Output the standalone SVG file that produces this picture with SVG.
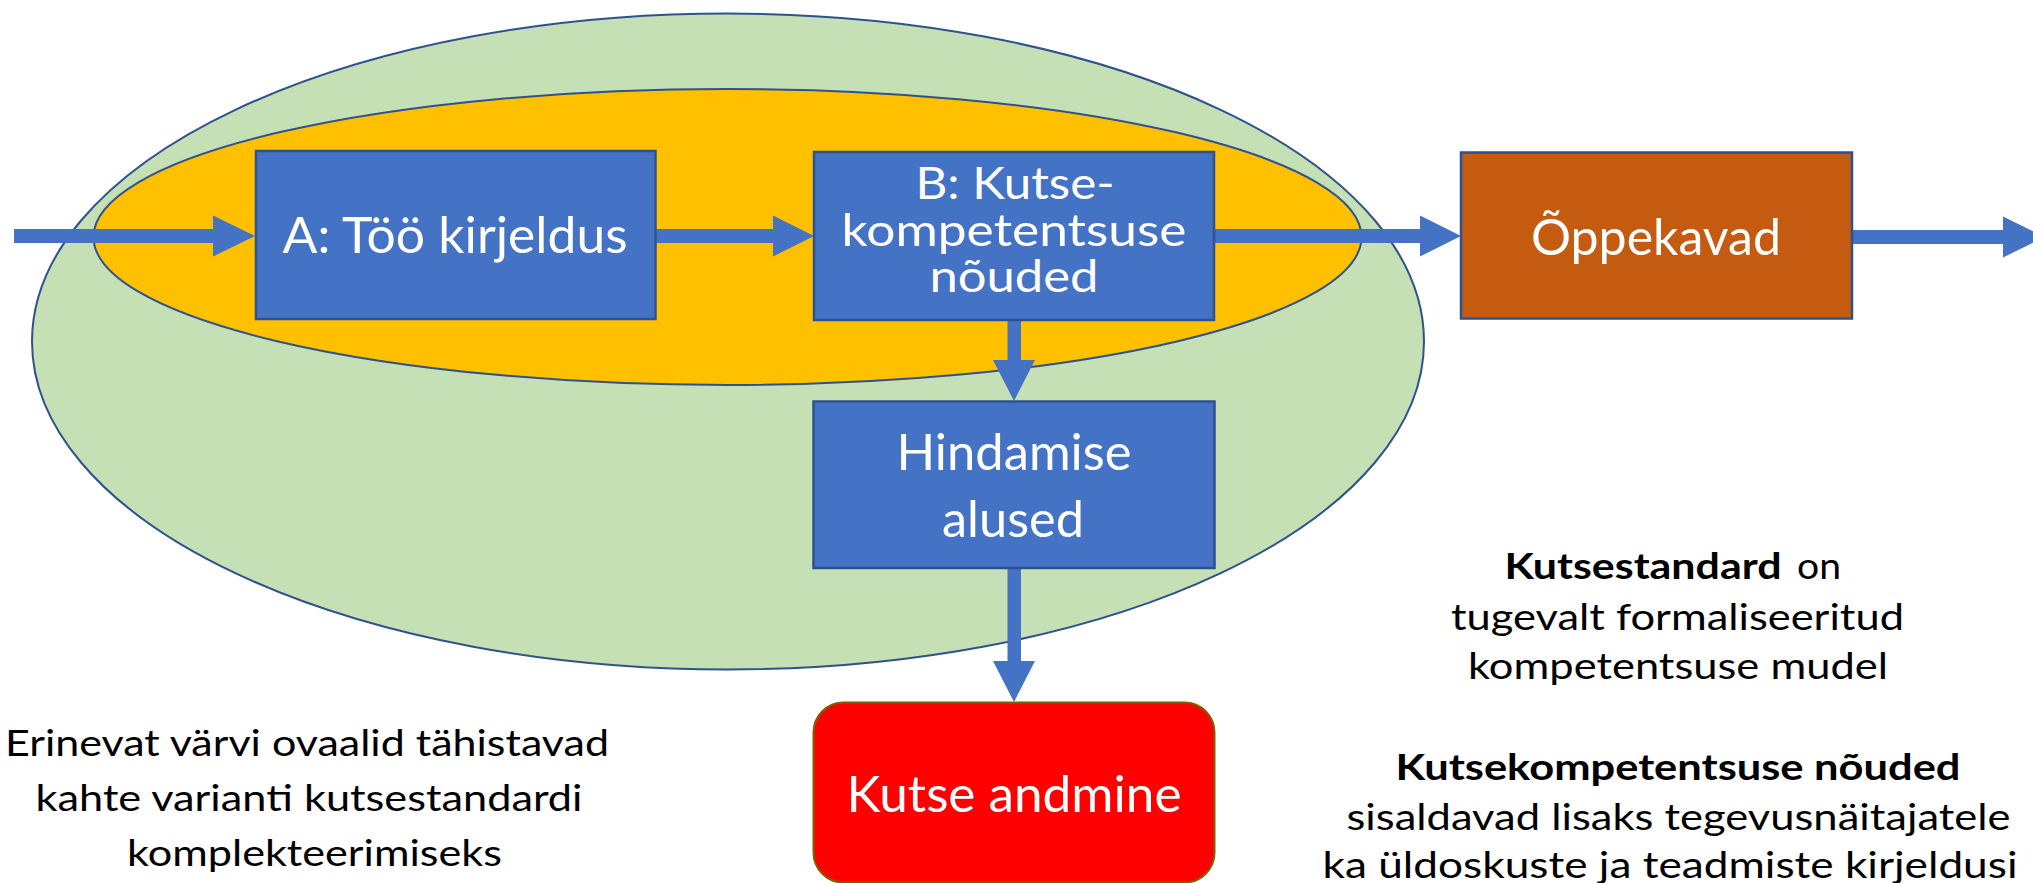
<svg xmlns="http://www.w3.org/2000/svg" width="2033" height="883" viewBox="0 0 2033 883">
<style>
.box{fill:#4472C4;stroke:#2F528F;stroke-width:2.5}
.bt{font-family:Lato,"Liberation Sans",sans-serif;font-size:50px;fill:#FFFFFF;text-anchor:middle}
.bs{font-size:45px}
.note{font-family:Lato,"Liberation Sans",sans-serif;font-size:37px;fill:#000000;text-anchor:middle}
.b{font-weight:bold}
.arrow{fill:#4472C4}
</style>
<rect width="2033" height="883" fill="#FFFFFF"/>
<g id="ellipse-green"><ellipse cx="728" cy="341.5" rx="696" ry="328" fill="#C5E0B4" stroke="#2F528F" stroke-width="2"/></g>
<g id="ellipse-orange"><ellipse cx="727.5" cy="237" rx="634" ry="148" fill="#FFC000" stroke="#2F528F" stroke-width="2"/></g>
<g id="connectors">
<path class="arrow" d="M14,229 L213,229 L213,215.5 L255,236 L213,256.5 L213,243 L14,243 Z"/>
<path class="arrow" d="M655,229 L773,229 L773,215.5 L814,236 L773,256.5 L773,243 L655,243 Z"/>
<path class="arrow" d="M1214,229 L1420,229 L1420,215.5 L1461,236 L1420,256.5 L1420,243 L1214,243 Z"/>
<path class="arrow" d="M1852,230 L2003,230 L2003,216.5 L2045,237 L2003,257.5 L2003,244 L1852,244 Z"/>
<path class="arrow" d="M1007.5,320 L1021,320 L1021,360 L1035,360 L1014,401 L993,360 L1007.5,360 Z"/>
<path class="arrow" d="M1007.5,568 L1021,568 L1021,661 L1035,661 L1014,702 L993,661 L1007.5,661 Z"/>
</g>
<g id="node-a">
<rect class="box" x="256" y="151" width="399.5" height="168"/>
<text class="bt" x="455" y="253" textLength="345" lengthAdjust="spacingAndGlyphs">A: Töö kirjeldus</text>
</g>
<g id="node-b">
<rect class="box" x="814" y="152" width="400" height="168"/>
<text class="bt bs" x="1015" y="199" textLength="199" lengthAdjust="spacingAndGlyphs">B: Kutse-</text>
<text class="bt bs" x="1014" y="245.5" textLength="345" lengthAdjust="spacingAndGlyphs">kompetentsuse</text>
<text class="bt bs" x="1014" y="292" textLength="169" lengthAdjust="spacingAndGlyphs">nõuded</text>
</g>
<g id="node-hindamise">
<rect class="box" x="813.5" y="401.5" width="401" height="166.5"/>
<text class="bt" x="1014" y="469.5" textLength="235" lengthAdjust="spacingAndGlyphs">Hindamise</text>
<text class="bt" x="1013" y="537" textLength="142" lengthAdjust="spacingAndGlyphs">alused</text>
</g>
<g id="node-oppekavad">
<rect x="1461" y="152.5" width="391" height="166" fill="#C55A11" stroke="#2F528F" stroke-width="2.5"/>
<text class="bt" x="1656" y="255" textLength="250" lengthAdjust="spacingAndGlyphs">Õppekavad</text>
</g>
<g id="node-kutse-andmine">
<rect x="813.5" y="702.5" width="401" height="180" rx="30" ry="30" fill="#FF0000" stroke="#7F6000" stroke-width="2"/>
<text class="bt" x="1014" y="812" textLength="335" lengthAdjust="spacingAndGlyphs">Kutse andmine</text>
</g>
<g id="note-left">
<text class="note" x="307" y="756" textLength="604" lengthAdjust="spacingAndGlyphs">Erinevat värvi ovaalid tähistavad</text>
<text class="note" x="309" y="811" textLength="547" lengthAdjust="spacingAndGlyphs">kahte varianti kutsestandardi</text>
<text class="note" x="314.5" y="866" textLength="375" lengthAdjust="spacingAndGlyphs">komplekteerimiseks</text>
</g>
<g id="note-right">
<text class="note b" x="1643" y="579" textLength="277" lengthAdjust="spacingAndGlyphs">Kutsestandard</text>
<text class="note" x="1819" y="579" textLength="44" lengthAdjust="spacingAndGlyphs">on</text>
<text class="note" x="1677.5" y="630" textLength="453" lengthAdjust="spacingAndGlyphs">tugevalt formaliseeritud</text>
<text class="note" x="1678" y="679" textLength="420" lengthAdjust="spacingAndGlyphs">kompetentsuse mudel</text>
<text class="note b" x="1678" y="780" textLength="565" lengthAdjust="spacingAndGlyphs">Kutsekompetentsuse nõuded</text>
<text class="note" x="1678.5" y="830" textLength="664" lengthAdjust="spacingAndGlyphs">sisaldavad lisaks tegevusnäitajatele</text>
<text class="note" x="1670" y="878" textLength="695" lengthAdjust="spacingAndGlyphs">ka üldoskuste ja teadmiste kirjeldusi</text>
</g>
</svg>
